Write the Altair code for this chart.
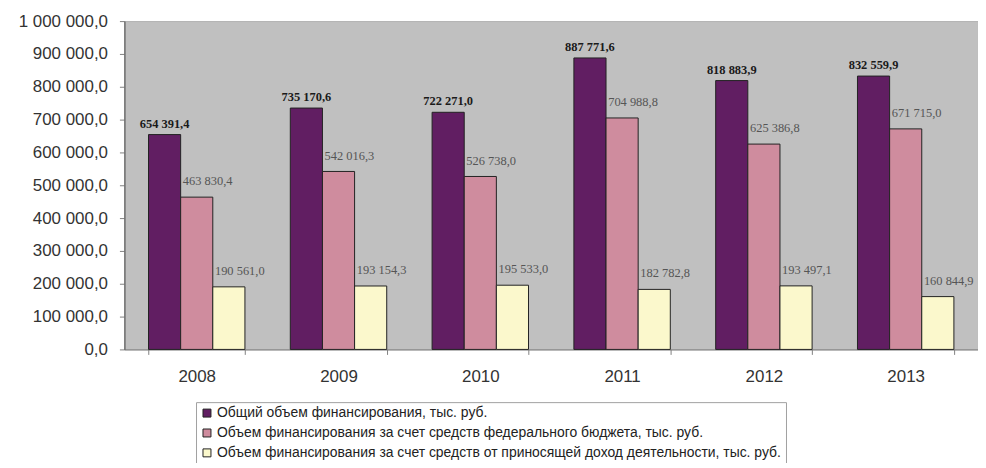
import altair as alt
import pandas as pd

years = ["2008", "2009", "2010", "2011", "2012", "2013"]
series = [
    "Общий объем финансирования, тыс. руб.",
    "Объем финансирования за счет средств федерального бюджета,  тыс. руб.",
    "Объем финансирования за счет средств от приносящей доход деятельности, тыс. руб.",
]
total = [654391.4, 735170.6, 722271.0, 887771.6, 818883.9, 832559.9]
federal = [463830.4, 542016.3, 526738.0, 704988.8, 625386.8, 671715.0]
income = [190561.0, 193154.3, 195533.0, 182782.8, 193497.1, 160844.9]
colors = ["#611e62", "#cf8c9e", "#fbf8cc"]
y_ticks = [0, 100000, 200000, 300000, 400000, 500000, 600000, 700000, 800000, 900000, 1000000]


def fmt(v):
    return f"{v:,.1f}".replace(",", " ").replace(".", ",")


rows = []
for i, y in enumerate(years):
    for s, vals in zip(series, [total, federal, income]):
        rows.append({"year": y, "series": s, "order": series.index(s),
                     "value": vals[i], "label": fmt(vals[i])})
df = pd.DataFrame(rows)

x_enc = alt.X("year:N", title=None, sort=years,
              scale=alt.Scale(paddingInner=0.32, paddingOuter=0.17),
              axis=alt.Axis(labelAngle=0, labelFont="Liberation Sans", labelFontSize=17,
                            labelColor="#333333", labelPadding=14, ticks=True,
                            tickBand="extent", tickSize=5, tickColor="#808080",
                            domainColor="#808080", domainWidth=1))
xoff = alt.XOffset("series:N", sort=series, scale=alt.Scale(paddingInner=0, paddingOuter=0))
y_enc = alt.Y("value:Q", title=None, scale=alt.Scale(domain=[0, 1000000], nice=False),
              axis=alt.Axis(values=y_ticks, grid=False, labelOverlap=False,
                            labelExpr="replace(join(split(format(datum.value, ',.1f'), ','), ' '), '.', ',')",
                            labelFont="Liberation Sans", labelFontSize=17, labelColor="#333333",
                            tickColor="#808080", tickSize=5, labelPadding=12,
                            domainColor="#707070", domainWidth=1.5))

bars = alt.Chart(df).mark_bar(stroke="#222222", strokeWidth=1).encode(
    x=x_enc, xOffset=xoff, y=y_enc,
    color=alt.Color("series:N", sort=series,
                    scale=alt.Scale(domain=series, range=colors),
                    legend=alt.Legend(title=None, orient="none", legendX=72, legendY=383,
                                      symbolType="square", symbolSize=64,
                                      symbolStrokeColor="#222222", symbolStrokeWidth=1,
                                      labelFont="Liberation Sans", labelFontSize=14,
                                      labelColor="#222222", labelLimit=1200, rowPadding=6,
                                      labelOffset=3, padding=4, strokeColor="#a0a0a0",
                                      fillColor="white", direction="vertical")),
)

lab_total = alt.Chart(df[df["order"] == 0]).mark_text(
    font="Liberation Serif", fontSize=12.5, fontWeight="bold", color="#1a1a1a",
    baseline="middle", align="center", dy=-11,
).encode(x=x_enc, xOffset=xoff, y=y_enc, text="label:N")

lab_other = alt.Chart(df[df["order"] > 0]).mark_text(
    font="Liberation Serif", fontSize=12.5, color="#555555",
    baseline="middle", align="left", dx=-14, dy=-16,
).encode(x=x_enc, xOffset=xoff, y=y_enc, text="label:N")

chart = alt.layer(bars, lab_total, lab_other).properties(
    width=858, height=330,
    autosize=alt.AutoSizeParams(type="none"),
    padding={"left": 117, "top": 12, "right": 0, "bottom": 113},
    background="white",
).configure_view(fill="#c0c0c0", stroke="#b0b0b0")

chart.save("out.html", embed_options={"renderer": "svg", "actions": False})
